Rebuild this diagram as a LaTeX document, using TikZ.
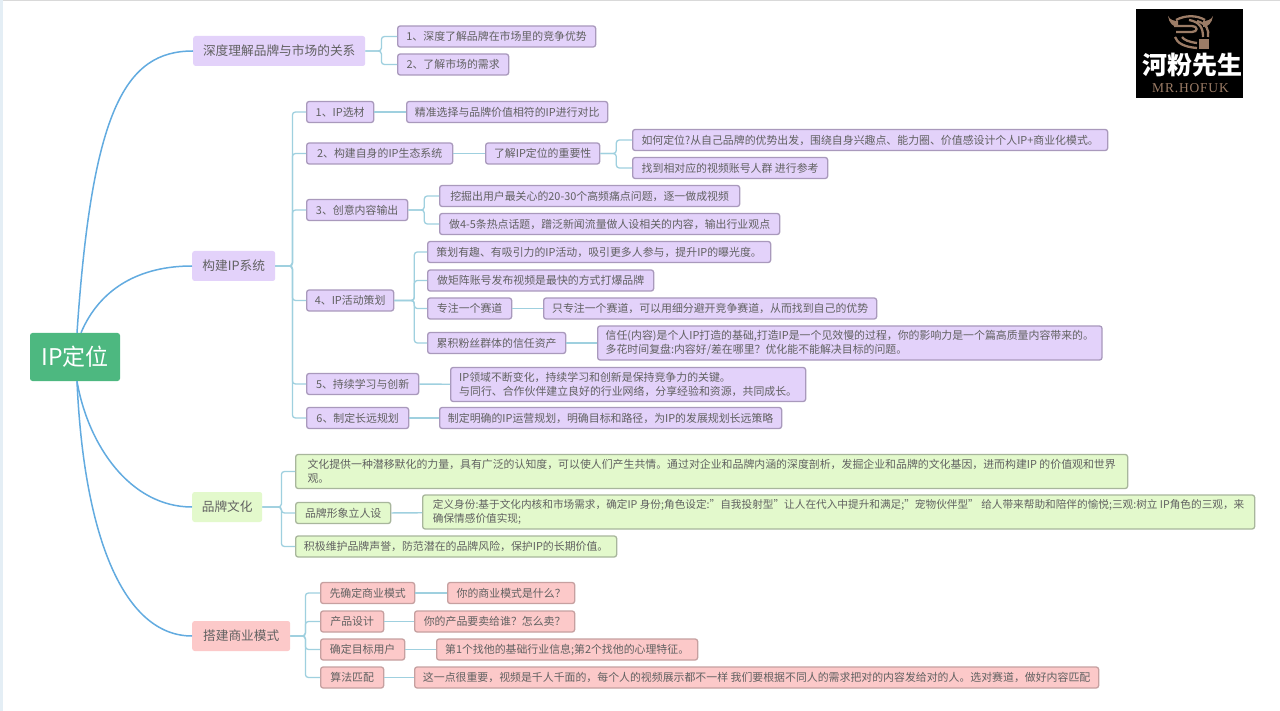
\documentclass[tikz,border=0pt]{standalone}
\usepackage{fontspec}
\setmainfont{Noto Sans CJK SC}
\setsansfont{Noto Sans CJK SC}
\newfontfamily\logofont[LetterSpace=6]{Liberation Serif}
\usetikzlibrary{arrows,calc}

\definecolor{rootgreen}{HTML}{4DB880}
\definecolor{mainline}{HTML}{62ABE0}
\definecolor{subline}{HTML}{9FD0DF}
\definecolor{stripblue}{HTML}{E4EEF5}
\definecolor{purplefill}{HTML}{E3D2FA}
\definecolor{purpleedge}{HTML}{A999BC}
\definecolor{greenfill}{HTML}{E3F9CC}
\definecolor{greenedge}{HTML}{A8B69C}
\definecolor{pinkfill}{HTML}{FCC9C9}
\definecolor{pinkedge}{HTML}{C6A0A0}
\definecolor{logotan}{HTML}{9C7C66}

\tikzset{
  topic/.style={anchor=west,rounded corners=2.5pt,inner xsep=8pt,inner ysep=0pt,minimum height=21pt,
    align=left,text=black!62,font=\fontsize{10.9}{14}\selectfont},
  head/.style={topic,inner xsep=9.5pt,minimum height=30pt,font=\fontsize{12.7}{15}\selectfont},
  purple leaf/.style={topic,fill=purplefill,draw=purpleedge,line width=1.3pt},
  green leaf/.style={topic,fill=greenfill,draw=greenedge,line width=1.3pt},
  pink leaf/.style={topic,fill=pinkfill,draw=pinkedge,line width=1.3pt},
  main curve/.style={draw=mainline,line width=1.5pt},
  sub line/.style={draw=subline,line width=1.3pt},
  elbow/.style={rounded corners=3pt,to path={-- ([xshift=#1pt]\tikztostart.east) |- (\tikztotarget.west)}},
  elbow/.default=16,
  logo line/.style={draw=logotan,line width=2.3pt}
}

\begin{document}
\begin{tikzpicture}[x=1pt,y=-1pt]
\useasboundingbox (0,0) rectangle (1280,711);
\fill[white] (0,0) rectangle (1280,711);
\fill[black!15] (0,0) rectangle (1280,1.5);
\fill[stripblue] (0,0) rectangle (3,711);

\node[anchor=center,fill=rootgreen,rounded corners=2.5pt,minimum width=90pt,minimum height=48pt,inner sep=0pt,
  text=white,font=\fontsize{23}{26}\selectfont](IP) at (75,357) {IP定位};

% first topic
\node[head,fill=purplefill,minimum width=172pt](Brand) at (193,51) {深度理解品牌与市场的关系};
\node[purple leaf,minimum width=198pt](BrandA) at (397,36.5) {1、深度了解品牌在市场里的竞争优势};
\node[purple leaf,minimum width=111pt](BrandB) at (397,64.5) {2、了解市场的需求};

% second topic
\node[head,fill=purplefill,minimum width=83pt](Sys) at (192,266) {构建IP系统};
\node[purple leaf,minimum width=67pt](S1) at (306,112) {1、IP选材};
\node[purple leaf,minimum width=201pt](S1A) at (406,112) {精准选择与品牌价值相符的IP进行对比};
\node[purple leaf,minimum width=146pt](S2) at (306,153.5) {2、构建自身的IP生态系统};
\node[purple leaf,minimum width=114pt](S2A) at (485,153.5) {了解IP定位的重要性};
\node[purple leaf,minimum width=475pt](S2B) at (632,140) {如何定位?从自己品牌的优势出发，围绕自身兴趣点、能力圈、价值感设计个人IP+商业化模式。};
\node[purple leaf,minimum width=195pt](S2C) at (632,168) {找到相对应的视频账号人群 进行参考};
\node[purple leaf,minimum width=101pt](S3) at (306,210) {3、创意内容输出};
\node[purple leaf,minimum width=300pt](S3A) at (439,196) {挖掘出用户最关心的20-30个高频痛点问题，逐一做成视频};
\node[purple leaf,minimum width=340pt](S3B) at (439,224) {做4-5条热点话题，蹭泛新闻流量做人设相关的内容，输出行业观点};
\node[purple leaf,minimum width=87pt](S4) at (306,300.5) {4、IP活动策划};
\node[purple leaf,minimum width=343pt](S4A) at (427,252) {策划有趣、有吸引力的IP活动，吸引更多人参与，提升IP的曝光度。};
\node[purple leaf,minimum width=226pt](S4B) at (427,280.5) {做矩阵账号发布视频是最快的方式打爆品牌};
\node[purple leaf,minimum width=84pt](S4C) at (427,308.5) {专注一个赛道};
\node[purple leaf,minimum width=333pt](S4D) at (543,308.5) {只专注一个赛道，可以用细分避开竞争赛道，从而找到自己的优势};
\node[purple leaf,minimum width=138pt](S4E) at (427,343) {累积粉丝群体的信任资产};
\node[purple leaf,minimum width=504pt,minimum height=34pt](S4F) at (597,343) {信任(内容)是个人IP打造的基础,打造IP是一个见效慢的过程，你的影响力是一个篇高质量内容带来的。\\多花时间复盘:内容好/差在哪里？优化能不能解决目标的问题。};
\node[purple leaf,minimum width=112pt](S5) at (306,384) {5、持续学习与创新};
\node[purple leaf,minimum width=355pt,minimum height=34pt](S5A) at (450,384.5) {IP领域不断变化，持续学习和创新是保持竞争力的关键。\\与同行、合作伙伴建立良好的行业网络，分享经验和资源，共同成长。};
\node[purple leaf,minimum width=102pt](S6) at (306,418) {6、制定长远规划};
\node[purple leaf,minimum width=342pt](S6A) at (439,418) {制定明确的IP运营规划，明确目标和路径，为IP的发展规划长远策略};

% third topic
\node[head,fill=greenfill,minimum width=70pt](Culture) at (192,507) {品牌文化};
\node[green leaf,minimum width=832pt,minimum height=34pt](C1) at (295,471.5) {文化提供一种潜移默化的力量，具有广泛的认知度，可以使人们产生共情。通过对企业和品牌内涵的深度剖析，发掘企业和品牌的文化基因，进而构建IP 的价值观和世界\\观。};
\node[green leaf,minimum width=95pt](C2) at (295,513) {品牌形象立人设};
\node[green leaf,minimum width=832pt,minimum height=34pt,font=\fontsize{10.65}{14}\selectfont](C2A) at (422,512) {定义身份:基于文化内核和市场需求，确定IP 身份;角色设定:"自我投射型"让人在代入中提升和满足;"宠物伙伴型" 给人带来帮助和陪伴的愉悦;三观:树立 IP角色的三观，来\\确保情感价值实现;};
\node[green leaf,minimum width=321pt](C3) at (295,546.5) {积极维护品牌声誉，防范潜在的品牌风险，保护IP的长期价值。};

% fourth topic
\node[head,fill=pinkfill,minimum width=98pt](Biz) at (192,636) {搭建商业模式};
\node[pink leaf,minimum width=94pt](D1) at (320,593) {先确定商业模式};
\node[pink leaf,minimum width=127pt](D1A) at (447,593) {你的商业模式是什么？};
\node[pink leaf,minimum width=63pt](D2) at (320,621.5) {产品设计};
\node[pink leaf,minimum width=160pt](D2A) at (414,621.5) {你的产品要卖给谁？怎么卖？};
\node[pink leaf,minimum width=84pt](D3) at (320,649.5) {确定目标用户};
\node[pink leaf,minimum width=261pt](D3A) at (436,649.5) {第1个找他的基础行业信息;第2个找他的心理特征。};
\node[pink leaf,minimum width=63pt](D4) at (320,677.5) {算法匹配};
\node[pink leaf,minimum width=684pt](D4A) at (414,677.5) {这一点很重要，视频是千人千面的，每个人的视频展示都不一样 我们要根据不同人的需求把对的内容发给对的人。选对赛道，做好内容匹配};

% curves from the root
\draw[main curve] ([xshift=2pt]IP.north) .. controls (92,110) and (125,51) .. (Brand.west);
\draw[main curve] ([xshift=6pt]IP.north) .. controls (100,288) and (140,266) .. (Sys.west);
\draw[main curve] ([xshift=2pt]IP.south) .. controls (88,445) and (130,507) .. (Culture.west);
\draw[main curve] ([xshift=2pt]IP.south) .. controls (84,540) and (125,636) .. (Biz.west);

\path[sub line]
(Brand) edge[elbow] (BrandA)
(Brand) edge[elbow] (BrandB)
(Sys) edge[elbow=17] (S1)
(Sys) edge[elbow=17] (S2)
(Sys) edge[elbow=17] (S3)
(Sys) edge[elbow=17] (S4)
(Sys) edge[elbow=17] (S5)
(Sys) edge[elbow=17] (S6)
(S1) edge (S1A)
(S2) edge (S2A)
(S2A) edge[elbow] (S2B)
(S2A) edge[elbow] (S2C)
(S3) edge[elbow] (S3A)
(S3) edge[elbow] (S3B)
(S4) edge[elbow=20] (S4A)
(S4) edge[elbow=20] (S4B)
(S4) edge[elbow=20] (S4C)
(S4) edge[elbow=20] (S4E)
(S4C) edge (S4D)
(S4E) edge (S4F)
(S5) edge (S5A)
(S6) edge (S6A)
(Culture) edge[elbow=19] (C1)
(Culture) edge[elbow=19] (C2)
(Culture) edge[elbow=19] (C3)
(C2) edge (C2A)
(Biz) edge[elbow=15] (D1)
(Biz) edge[elbow=15] (D2)
(Biz) edge[elbow=15] (D3)
(Biz) edge[elbow=15] (D4)
(D1) edge (D1A)
(D2) edge (D2A)
(D3) edge (D3A)
(D4) edge (D4A);

% logo
\fill[black] (1136,9) rectangle (1243,98);
\fill[logotan] (1168,16) .. controls (1169,23) and (1173,27) .. (1178,27) -- (1178,21) .. controls (1174,21) and (1170,20) .. (1168,16);
\fill[logotan] (1213,16) .. controls (1212,23) and (1208,27) .. (1203,27) -- (1203,21) .. controls (1207,21) and (1211,20) .. (1213,16);
\draw[logo line] (1176,20) .. controls (1185,15) and (1197,15) .. (1205,20);
\draw[logo line] (1174,26) -- (1192,26) .. controls (1198,26) and (1198,32) .. (1192,32) -- (1176,32);
\draw[logo line] (1175,37) .. controls (1177,43) and (1184,47) .. (1197,48);
\draw[logo line] (1182,37) .. controls (1184,40) and (1189,42) .. (1197,43);
\draw[logo line] (1189,20) .. controls (1200,22) and (1203,28) .. (1203,37);
\draw[logo line] (1197,21) .. controls (1207,24) and (1209,30) .. (1208,37);
\fill[logotan] (1199,39) rectangle (1209,49);
\node[text=white,font=\fontsize{25}{27}\selectfont\bfseries,inner sep=0pt](LogoName) at (1192,65) {河粉先生};
\node[text=logotan,font=\logofont\fontsize{13.5}{14}\selectfont,inner sep=0pt](LogoSub) at (1190.5,88.5) {MR.HOFUK};
\end{tikzpicture}
\end{document}
